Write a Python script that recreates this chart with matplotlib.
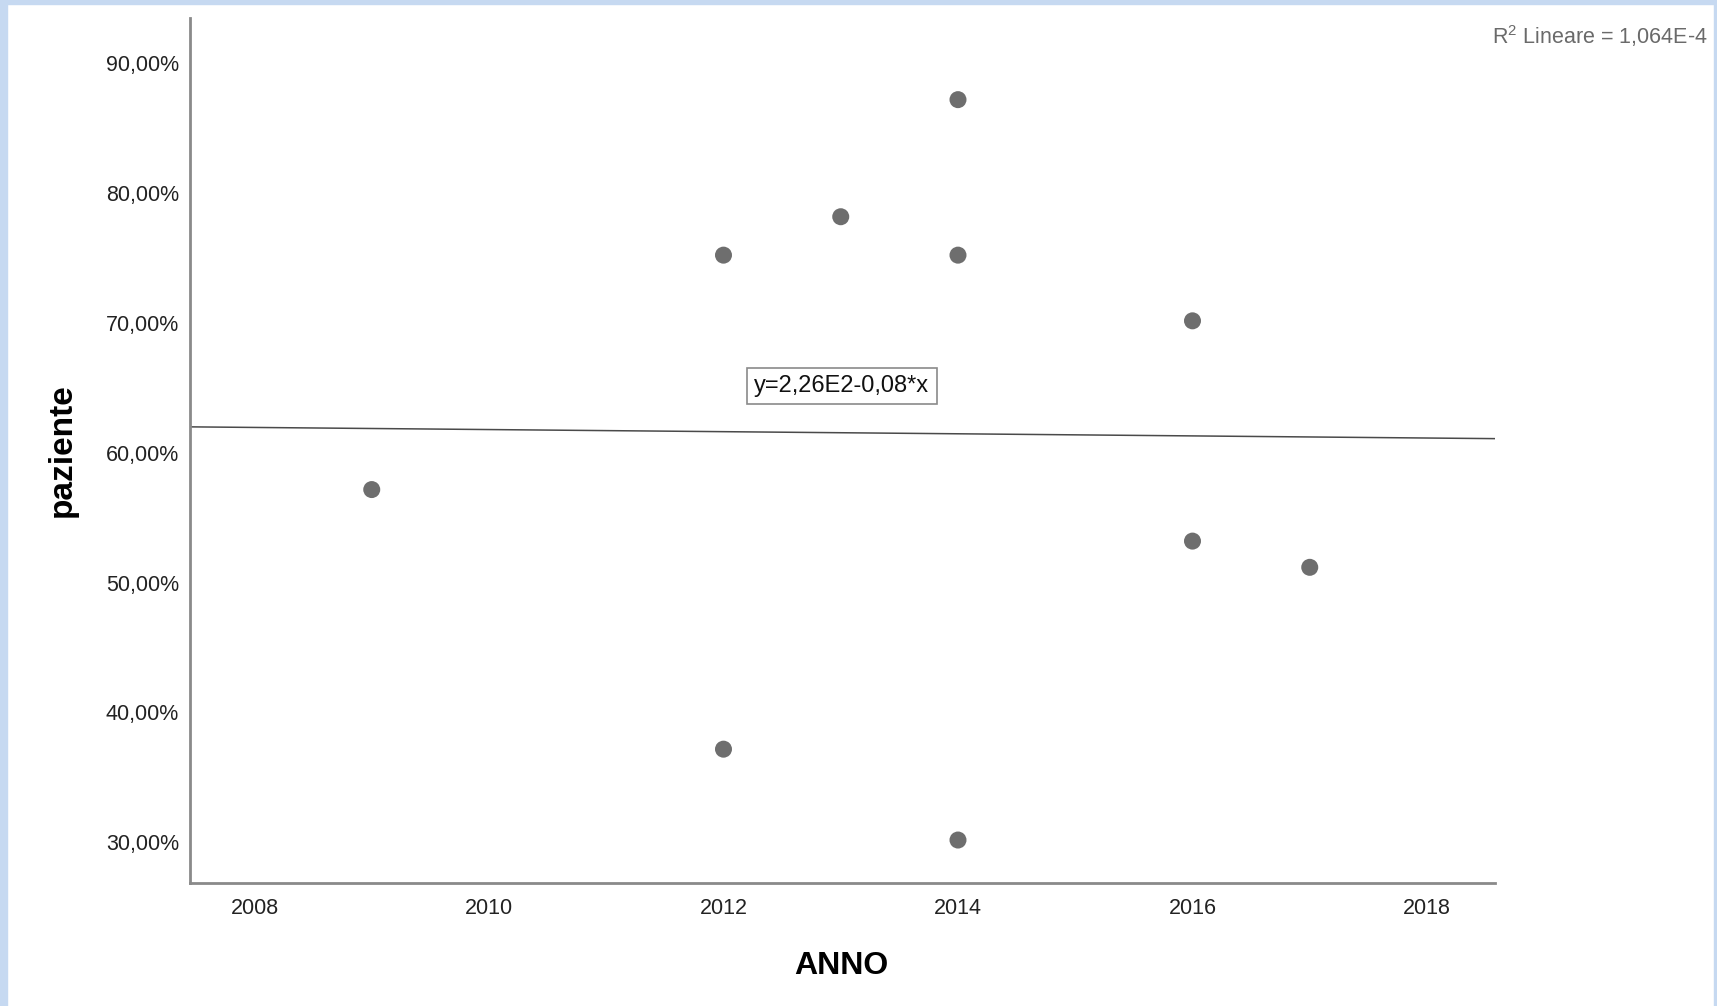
import numpy as np
import matplotlib
matplotlib.use('Agg')
import matplotlib.pyplot as plt
from matplotlib.patches import Rectangle
from matplotlib.ticker import FuncFormatter

# anno e percentuale per ogni osservazione
anni = [2009, 2012, 2012, 2013, 2014, 2014, 2014, 2016, 2016, 2017]
paziente = [57.17, 75.23, 37.17, 78.19, 87.21, 75.23, 30.17, 70.17, 53.20, 51.18]

x_ticks = [2008, 2010, 2012, 2014, 2016, 2018]
y_ticks = [30, 40, 50, 60, 70, 80, 90]

eq_text = "y=2,26E2-0,08*x"
r2_text = "R$^2$ Lineare = 1,064E-4"

plt.rcParams['font.family'] = ['Liberation Sans', 'DejaVu Sans']
plt.rcParams['mathtext.fontset'] = 'custom'
plt.rcParams['mathtext.rm'] = 'Liberation Sans'

fig = plt.figure(figsize = (17.17, 10.06), dpi = 100)
W, H = 1717.0, 1006.0

# cornice azzurra
frame = '#c6d9f1'
fig.patches.append(Rectangle((0, 0), 7 / W, 1, transform = fig.transFigure, color = frame, zorder = 0))
fig.patches.append(Rectangle((0, 1 - 4 / H), 1, 4 / H, transform = fig.transFigure, color = frame, zorder = 0))
fig.patches.append(Rectangle((1714 / W, 0), 3 / W, 1, transform = fig.transFigure, color = frame, zorder = 0))

ax = fig.add_axes([190 / W, 1 - 883 / H, (1495 - 190) / W, (883 - 18) / H])
ax.set_xlim(2007.45, 2018.58)
ax.set_ylim(26.86, 93.5)

x = np.array(anni, dtype = float)
y = np.array(paziente)
ax.scatter(x, y, s = 150, color = '#6e6e6e', edgecolors = 'none', zorder = 3)

# retta di regressione lineare
slope, intercept = np.polyfit(x, y, 1)
xl = np.array(ax.get_xlim())
ax.plot(xl, intercept + slope * xl, color = '#4a4a4a', linewidth = 1.1, zorder = 2)

ax.text(2013.01, 65.14, eq_text, fontsize = 17, ha = 'center', va = 'center', color = '#111111',
        bbox = dict(boxstyle = 'square,pad=0.3', facecolor = 'white', edgecolor = '#8a8a8a', linewidth = 1.2))

ax.set_xticks(x_ticks)
ax.set_yticks(y_ticks)
ax.yaxis.set_major_formatter(FuncFormatter(lambda v, p: ("%.2f%%" % v).replace('.', ',')))
ax.tick_params(length = 0, labelsize = 15.5, colors = '#222222')
ax.tick_params(axis = 'y', pad = 8)
ax.tick_params(axis = 'x', pad = 11)

for side in ['top', 'right']:
    ax.spines[side].set_visible(False)
for side in ['left', 'bottom']:
    ax.spines[side].set_color('#8a8a8a')
    ax.spines[side].set_linewidth(2)

fig.text(841 / W, 1 - 966 / H, "ANNO", fontsize = 23, fontweight = 'bold', ha = 'center', va = 'center')
fig.text(62 / W, 1 - 450 / H, "paziente", fontsize = 24, fontweight = 'bold', rotation = 90,
         ha = 'center', va = 'center')
fig.text(1708 / W, 1 - 36 / H, r2_text, fontsize = 15.5, color = '#6a6a6a', ha = 'right', va = 'center')

fig.savefig('out.png', dpi = 100, facecolor = 'white')
